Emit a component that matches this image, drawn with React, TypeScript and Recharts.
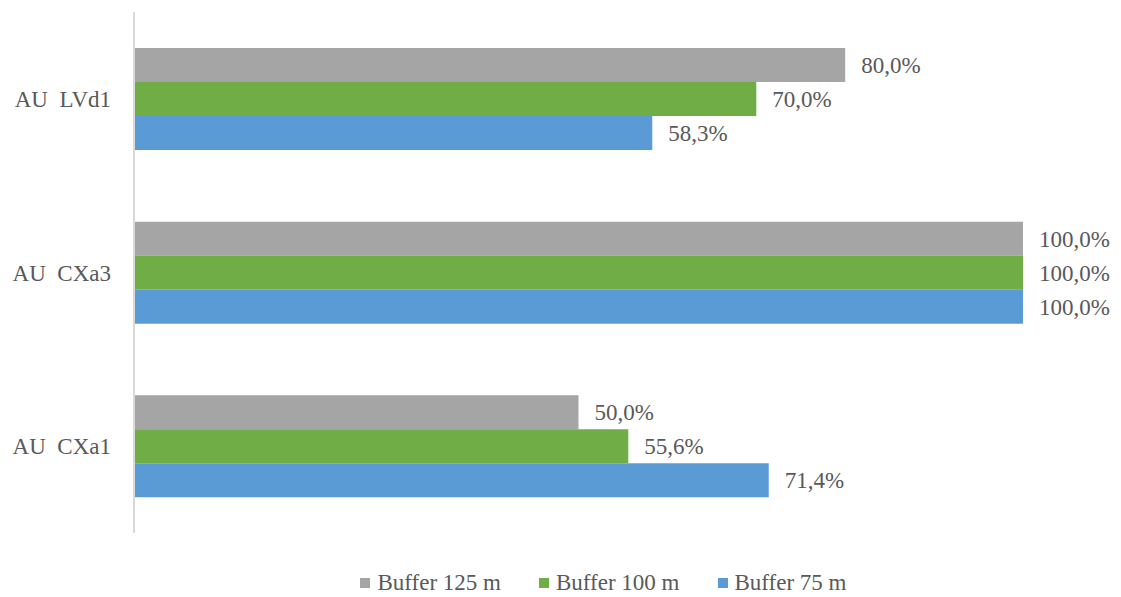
import React from "react";
import { BarChart, Bar, XAxis, YAxis, LabelList, Legend } from "recharts";

const categories = ["AU\u00a0\u00a0LVd1", "AU\u00a0\u00a0CXa3", "AU\u00a0\u00a0CXa1"];
const buffer125 = [80.0, 100.0, 50.0];
const buffer100 = [70.0, 100.0, 55.6];
const buffer75 = [58.3, 100.0, 71.4];

const seriesList = [
  { key: "b125", name: "Buffer 125 m", color: "#A5A5A5" },
  { key: "b100", name: "Buffer 100 m", color: "#70AD47" },
  { key: "b75", name: "Buffer 75 m", color: "#5B9BD5" },
];

const FONT = "'Liberation Serif', 'Times New Roman', serif";
const TEXT = "#595959";
const FS = 23;

const chartData = categories.map((name, i) => ({
  name,
  b125: buffer125[i],
  b100: buffer100[i],
  b75: buffer75[i],
}));

const fmt = (v: any) => `${Number(v).toFixed(1).replace(".", ",")}%`;

const LegendContent = () => (
  <div
    style={{
      height: 64,
      paddingTop: 36,
      paddingLeft: 86,
      boxSizing: "border-box",
      display: "flex",
      justifyContent: "center",
      alignItems: "center",
      fontFamily: FONT,
      fontSize: FS,
      color: TEXT,
    }}
  >
    {seriesList.map((s) => (
      <div
        key={s.key}
        style={{ display: "flex", alignItems: "center", margin: "0 19px" }}
      >
        <span
          style={{
            width: 10,
            height: 10,
            background: s.color,
            display: "inline-block",
            marginRight: 7,
          }}
        />
        <span>{s.name}</span>
      </div>
    ))}
  </div>
);

export default function App() {
  return (
    <div style={{ position: "absolute", left: 0, top: 0, background: "#fff" }}>
      <BarChart
        width={1121}
        height={597}
        data={chartData}
        layout="vertical"
        margin={{ top: 12, right: 98, bottom: 0, left: 0 }}
        barCategoryGap={36}
        barGap={0}
      >
        <XAxis type="number" domain={[0, 100]} hide />
        <YAxis
          type="category"
          dataKey="name"
          width={134}
          axisLine={{ stroke: "#D9D9D9", strokeWidth: 2 }}
          tickLine={false}
          tickSize={0}
          tickMargin={23}
          tick={{ fill: TEXT, fontSize: FS, fontFamily: FONT }}
        />
        <Legend
          verticalAlign="bottom"
          content={<LegendContent />}
          wrapperStyle={{ left: 0, width: 1121 }}
        />
        {seriesList.map((s) => (
          <Bar
            key={s.key}
            dataKey={s.key}
            name={s.name}
            fill={s.color}
            isAnimationActive={false}
          >
            <LabelList
              dataKey={s.key}
              position="right"
              offset={16}
              formatter={fmt}
              style={{ fill: TEXT, fontSize: FS, fontFamily: FONT }}
            />
          </Bar>
        ))}
      </BarChart>
    </div>
  );
}
